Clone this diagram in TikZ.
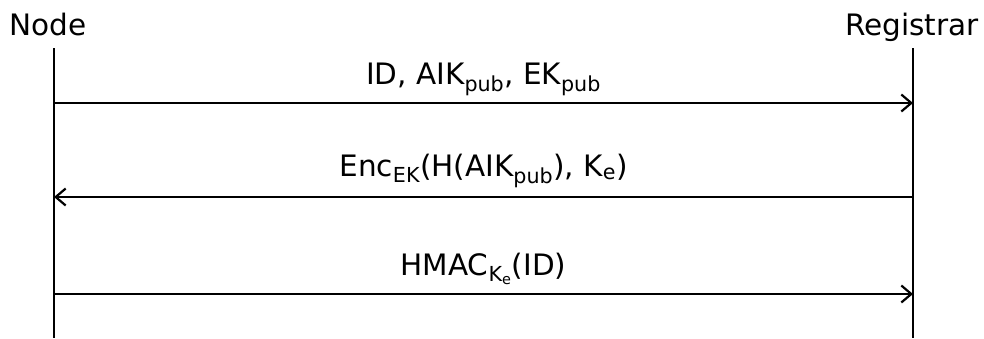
\documentclass[tikz,border=0pt]{standalone}
\usepackage{fontspec}
\setmainfont{DejaVu Sans}
\usepackage{xcolor,tikz}
\usetikzlibrary{positioning,arrows.meta}

\tikzset{
  msgFont/.style={font=\fontsize{29.5}{35}\selectfont},
  msgLabel/.style={msgFont, anchor=base, inner sep=0pt},
  lifeLine/.style={line width=2.2pt},
  msgArrow/.style={line width=2.2pt, -{Straight Barb[length=10pt,width=17pt,line width=2.2pt]}},
}

\begin{document}
\begin{tikzpicture}[x=1pt,y=1pt]

\useasboundingbox (0,0) rectangle (984,-338);

\def\xNode{54}
\def\xReg{913}
\def\yTop{-48}
\def\yBot{-338}

% --- HEADERS ---
\node[msgFont, anchor=base west, inner sep=0pt] (node) at (9,-35) {Node};
\node[msgFont, anchor=base east, inner sep=0pt] (registrar) at (979,-35) {Registrar};

% --- LIFELINES ---
\coordinate (nodeTop) at (\xNode,\yTop);
\coordinate (nodeBot) at (\xNode,\yBot);
\coordinate (regTop) at (\xReg,\yTop);
\coordinate (regBot) at (\xReg,\yBot);
\draw[lifeLine] (nodeTop) -- (nodeBot);
\draw[lifeLine] (regTop) -- (regBot);

% --- MESSAGE END POINTS ---
\coordinate (n1) at (\xNode,-103);
\coordinate (r1) at (\xReg,-103);
\coordinate (n2) at (\xNode,-197);
\coordinate (r2) at (\xReg,-197);
\coordinate (n3) at (\xNode,-294);
\coordinate (r3) at (\xReg,-294);

% --- MESSAGES (labels sit on their baseline) ---
\draw[msgArrow] (n1) -- node[msgLabel, yshift=19pt] (msgA)
  {ID, AIK\textsubscript{pub}, EK\textsubscript{pub}} (r1);
\draw[msgArrow] (r2) -- node[msgLabel, yshift=21pt] (msgB)
  {Enc\textsubscript{EK}(H(AIK\textsubscript{pub}), K\textsubscript{e})} (n2);
\draw[msgArrow] (n3) -- node[msgLabel, yshift=19pt] (msgC)
  {HMAC\textsubscript{K\textsubscript{e}}(ID)} (r3);

\end{tikzpicture}
\end{document}
